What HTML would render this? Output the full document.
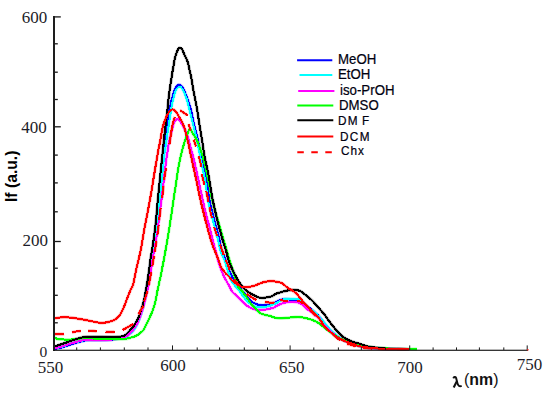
<!DOCTYPE html>
<html><head><meta charset="utf-8"><style>
html,body{margin:0;padding:0;background:#fff;}
#c{position:relative;width:550px;height:398px;overflow:hidden;background:#fff;}
svg{position:absolute;left:0;top:0;}
.t{position:absolute;white-space:nowrap;line-height:1;transform-origin:0 0;}
.s{font-family:"Liberation Serif",serif;font-size:17px;}
.l{font-family:"Liberation Sans",sans-serif;font-size:13px;}
</style></head><body><div id="c">
<div class="t" style="left:21.84px;top:8.00px;font-family:'Liberation Serif';font-size:17px;color:#1c1c28;transform:scale(1.000,1.040)">600</div>
<div class="t" style="left:21.34px;top:118.02px;font-family:'Liberation Serif';font-size:17px;color:#1c1c28;transform:scale(1.000,1.040)">400</div>
<div class="t" style="left:22.56px;top:231.00px;font-family:'Liberation Serif';font-size:17px;color:#1c1c28;transform:scale(1.000,1.040)">200</div>
<div class="t" style="left:39.60px;top:343.68px;font-family:'Liberation Serif';font-size:15.5px;color:#1c1c28;transform:scale(1.000,1.000)">0</div>
<div class="t" style="left:37.80px;top:358.32px;font-family:'Liberation Serif';font-size:17px;color:#1c1c28;transform:scale(1.000,1.040)">550</div>
<div class="t" style="left:160.26px;top:356.28px;font-family:'Liberation Serif';font-size:17px;color:#1c1c28;transform:scale(1.000,1.040)">600</div>
<div class="t" style="left:279.12px;top:358.42px;font-family:'Liberation Serif';font-size:17px;color:#1c1c28;transform:scale(1.000,1.040)">650</div>
<div class="t" style="left:397.30px;top:357.50px;font-family:'Liberation Serif';font-size:17px;color:#1c1c28;transform:scale(1.000,1.040)">700</div>
<div class="t" style="left:516.86px;top:354.64px;font-family:'Liberation Serif';font-size:17px;color:#1c1c28;transform:scale(1.000,1.040)">750</div>
<div class="t" style="left:337.70px;top:51.62px;font-family:'Liberation Sans';font-size:13px;-webkit-text-stroke:0.2px #000010;color:#000010;transform:scale(1.020,1.110)">MeOH</div>
<div class="t" style="left:338.32px;top:66.90px;font-family:'Liberation Sans';font-size:13px;-webkit-text-stroke:0.2px #000010;color:#000010;transform:scale(1.020,1.110)">EtOH</div>
<div class="t" style="left:340.08px;top:82.84px;font-family:'Liberation Sans';font-size:13px;-webkit-text-stroke:0.2px #000010;color:#000010;transform:scale(1.020,1.110)">iso-PrOH</div>
<div class="t" style="left:338.96px;top:98.48px;font-family:'Liberation Sans';font-size:13px;-webkit-text-stroke:0.2px #000010;color:#000010;transform:scale(1.020,1.110)">DMSO</div>
<div class="t" style="left:338.46px;top:114.14px;font-family:'Liberation Sans';font-size:12px;-webkit-text-stroke:0.2px #000010;letter-spacing:1.3px;word-spacing:-1.5px;color:#000010;transform:scale(0.980,1.050)">DM F</div>
<div class="t" style="left:340.06px;top:129.56px;font-family:'Liberation Sans';font-size:12px;-webkit-text-stroke:0.2px #000010;letter-spacing:1.4px;color:#000010;transform:scale(0.980,1.050)">DCM</div>
<div class="t" style="left:340.70px;top:144.36px;font-family:'Liberation Sans';font-size:12px;-webkit-text-stroke:0.2px #000010;letter-spacing:1.0px;color:#000010;transform:scale(0.980,1.050)">Chx</div>
<div class="t" style="left:464.02px;top:371.12px;font-family:'Liberation Sans';font-size:15px;font-weight:bold;color:#111;transform:scale(1.060,1.110)"><span style="font-weight:normal">(</span>nm<span style="font-weight:normal">)</span></div>
<div class="t" style="left:3.3px;top:201.6px;font-family:'Liberation Sans';font-size:16px;font-weight:bold;color:#000;transform:scale(1.07,0.98) rotate(-90deg)">If (a.u.)</div>

<svg width="550" height="398" viewBox="0 0 550 398">
<defs><filter id="bl" x="0" y="0" width="550" height="398" filterUnits="userSpaceOnUse" color-interpolation-filters="sRGB"><feConvolveMatrix order="3" kernelMatrix="0.015 0.06 0.015 0.06 0.70 0.06 0.015 0.06 0.015" preserveAlpha="false" edgeMode="duplicate"/></filter></defs>
<g>
<path d="M54.8 348.6 C55.5 348.6 56.9 348.7 58.8 348.3 C60.7 347.9 63.8 346.7 66.0 346.0 C68.2 345.3 69.9 344.6 72.0 344.0 C74.1 343.4 76.5 342.7 78.5 342.1 C80.5 341.5 82.4 340.9 84.3 340.6 C86.2 340.3 86.0 340.2 90.0 340.1 C94.0 340.0 102.8 340.3 108.0 340.0 C113.2 339.7 118.1 338.6 121.0 338.2 C123.9 337.8 124.0 338.0 125.2 337.4 C126.5 336.8 127.5 335.5 128.5 334.6 C129.6 333.7 130.5 333.2 131.5 332.2 C132.5 331.2 133.5 330.0 134.5 328.5 C135.5 327.0 136.5 325.1 137.5 323.0 C138.5 320.9 139.4 318.5 140.3 316.0 C141.2 313.5 141.9 310.8 142.7 308.0 C143.4 305.2 144.1 302.4 144.8 299.0 C145.5 295.6 146.2 292.0 147.0 287.5 C147.8 283.0 148.8 276.9 149.5 272.0 C150.2 267.1 150.7 262.0 151.3 258.3 C151.9 254.6 152.1 255.1 152.9 250.0 C153.7 244.9 155.1 234.7 155.9 227.7 C156.7 220.7 157.2 213.7 157.8 208.1 C158.4 202.5 158.6 199.6 159.2 194.0 C159.8 188.4 160.4 181.2 161.1 174.5 C161.8 167.8 162.6 159.6 163.2 153.8 C163.8 148.1 164.1 144.3 164.7 140.0 C165.2 135.7 165.9 132.2 166.5 128.0 C167.1 123.8 167.8 118.3 168.3 115.0 C168.9 111.7 169.2 110.4 169.8 107.9 C170.4 105.4 171.0 102.3 171.6 100.0 C172.2 97.7 172.7 95.8 173.4 93.8 C174.1 91.8 174.7 89.2 175.6 87.7 C176.5 86.2 177.5 84.8 178.6 84.6 C179.7 84.4 181.1 85.4 182.2 86.8 C183.3 88.2 184.2 90.8 185.2 93.0 C186.1 95.2 187.1 97.7 187.9 100.0 C188.7 102.3 189.4 104.6 190.1 107.0 C190.8 109.4 191.3 111.5 192.0 114.5 C192.7 117.5 193.2 120.8 194.2 125.1 C195.2 129.4 196.7 134.4 198.0 140.2 C199.3 146.0 200.4 153.3 201.8 160.0 C203.2 166.7 205.2 173.2 206.5 180.2 C207.8 187.2 208.6 195.6 209.8 202.0 C211.1 208.4 212.5 213.0 214.0 218.9 C215.5 224.8 217.7 232.5 219.0 237.7 C220.3 242.9 220.5 246.3 221.6 250.0 C222.7 253.7 224.1 256.3 225.5 260.0 C226.9 263.7 228.6 268.7 230.0 272.0 C231.4 275.3 232.7 277.8 234.0 280.0 C235.3 282.2 236.7 283.8 238.0 285.5 C239.3 287.2 240.4 288.6 242.0 290.5 C243.6 292.4 245.8 295.0 247.3 296.8 C248.8 298.6 249.6 300.1 251.0 301.3 C252.4 302.5 254.3 303.2 255.6 303.8 C256.9 304.4 257.9 304.6 259.0 304.9 C260.1 305.1 260.8 305.2 262.0 305.3 C263.2 305.4 264.8 305.3 266.0 305.2 C267.2 305.1 268.2 304.9 269.5 304.5 C270.8 304.1 272.4 303.7 274.0 303.0 C275.6 302.3 277.5 300.9 279.3 300.3 C281.1 299.7 282.5 299.3 284.6 299.2 C286.7 299.1 290.1 299.6 292.1 299.8 C294.1 300.1 295.1 300.3 296.7 300.7 C298.2 301.1 299.6 301.1 301.4 302.0 C303.2 302.9 305.5 304.8 307.6 306.4 C309.7 308.0 311.8 309.6 313.9 311.5 C316.0 313.4 318.3 315.5 320.2 317.7 C322.1 319.9 323.2 322.2 325.1 324.5 C327.0 326.8 329.3 329.5 331.4 331.5 C333.5 333.5 335.6 335.2 337.7 336.7 C339.8 338.2 341.9 339.4 344.0 340.4 C346.1 341.4 347.4 341.7 350.0 342.6 C352.6 343.5 356.4 345.2 359.5 346.0 C362.6 346.8 364.7 347.2 368.3 347.6 C371.9 348.1 376.9 348.4 381.4 348.7 C385.8 349.0 390.3 349.1 395.0 349.2 C399.7 349.3 407.1 349.4 409.5 349.5" fill="none" stroke="#0000ff" stroke-width="3.2" stroke-opacity="0.3" stroke-linejoin="round" stroke-linecap="butt"/>
<path d="M54.8 348.3 C55.7 348.1 58.4 347.7 60.3 347.2 C62.2 346.7 64.2 345.9 66.0 345.3 C67.8 344.7 68.9 344.2 71.0 343.6 C73.1 343.0 76.3 342.1 78.5 341.5 C80.7 340.9 82.1 340.6 84.0 340.3 C85.9 340.1 86.0 340.1 90.0 340.0 C94.0 339.9 102.8 340.1 108.0 339.8 C113.2 339.5 118.1 338.4 121.0 338.0 C123.9 337.6 124.0 337.8 125.2 337.2 C126.5 336.6 127.5 335.4 128.5 334.6 C129.6 333.8 130.5 333.2 131.5 332.2 C132.5 331.2 133.5 330.0 134.5 328.5 C135.5 327.0 136.5 325.1 137.5 323.0 C138.5 320.9 139.4 318.5 140.3 316.0 C141.2 313.5 141.9 310.8 142.7 308.0 C143.4 305.2 144.1 302.4 144.8 299.0 C145.5 295.6 146.2 292.0 147.0 287.5 C147.8 283.0 148.8 276.9 149.5 272.0 C150.2 267.1 150.9 262.0 151.5 258.3 C152.1 254.6 152.5 255.1 153.3 250.0 C154.1 244.9 155.6 234.7 156.5 227.7 C157.4 220.7 157.9 213.7 158.5 208.1 C159.1 202.5 159.7 199.6 160.3 194.0 C160.9 188.4 161.6 181.0 162.3 174.5 C163.0 168.0 163.7 159.8 164.3 155.0 C164.9 150.2 165.3 148.8 165.7 146.0 C166.1 143.2 166.4 141.0 166.8 138.0 C167.2 135.0 167.7 132.2 168.3 128.0 C168.9 123.8 169.9 117.1 170.6 113.0 C171.2 108.9 171.6 106.3 172.2 103.5 C172.8 100.7 173.4 98.2 174.0 96.0 C174.6 93.8 175.2 91.5 176.0 90.0 C176.8 88.5 178.0 86.9 179.1 86.7 C180.2 86.5 181.1 87.0 182.3 88.8 C183.5 90.6 184.9 93.7 186.1 97.3 C187.3 100.9 188.4 105.9 189.6 110.5 C190.8 115.1 192.0 120.1 193.2 125.1 C194.4 130.0 195.7 134.4 197.0 140.2 C198.3 146.0 199.5 153.3 200.8 160.0 C202.2 166.7 203.8 173.2 205.1 180.2 C206.3 187.2 207.1 195.6 208.3 202.0 C209.6 208.4 211.1 213.0 212.6 218.9 C214.1 224.8 216.3 232.5 217.6 237.7 C218.9 242.9 219.1 246.3 220.2 250.0 C221.3 253.7 222.9 255.8 224.4 260.0 C225.9 264.2 228.1 271.6 229.4 275.2 C230.7 278.8 230.9 279.5 232.0 281.5 C233.1 283.5 234.7 285.3 236.0 287.0 C237.3 288.7 238.6 289.9 239.8 291.5 C241.1 293.1 242.2 295.2 243.5 296.8 C244.8 298.4 246.1 300.1 247.3 301.3 C248.6 302.6 249.6 303.4 251.0 304.3 C252.4 305.2 253.9 306.1 255.6 306.6 C257.2 307.1 259.5 307.3 260.9 307.4 C262.3 307.5 262.8 307.5 264.0 307.3 C265.2 307.1 266.4 306.8 268.0 306.3 C269.6 305.8 271.8 305.1 273.3 304.5 C274.8 303.9 275.7 303.3 277.1 302.6 C278.5 301.9 280.1 300.9 281.6 300.3 C283.1 299.7 284.4 299.1 286.1 298.8 C287.9 298.6 290.2 298.7 292.1 298.8 C294.0 298.9 295.8 298.9 297.4 299.2 C299.0 299.5 300.5 299.6 302.0 300.8 C303.5 302.0 304.3 304.3 306.3 306.1 C308.3 307.9 311.8 309.8 313.9 311.5 C316.0 313.2 316.9 314.2 318.8 316.3 C320.7 318.4 323.0 321.4 325.1 323.9 C327.2 326.3 329.3 328.9 331.4 331.0 C333.5 333.1 335.6 334.9 337.7 336.5 C339.8 338.1 341.9 339.3 344.0 340.3 C346.1 341.3 347.4 341.7 350.0 342.6 C352.6 343.6 356.4 345.2 359.5 346.0 C362.6 346.8 364.7 347.2 368.3 347.6 C371.9 348.1 376.9 348.4 381.4 348.7 C385.8 349.0 390.3 349.1 395.0 349.2 C399.7 349.3 407.1 349.4 409.5 349.5" fill="none" stroke="#00ffff" stroke-width="3.2" stroke-opacity="0.3" stroke-linejoin="round" stroke-linecap="butt"/>
<path d="M55.0 348.2 C56.2 347.9 59.8 347.1 62.5 346.3 C65.2 345.5 68.5 344.3 71.2 343.5 C73.9 342.7 76.1 342.0 78.5 341.4 C80.9 340.8 83.3 340.1 85.7 339.9 C88.1 339.7 89.2 340.1 93.0 340.1 C96.8 340.1 104.1 340.5 108.8 340.0 C113.5 339.5 118.3 337.8 121.0 337.3 C123.7 336.8 124.0 337.6 125.2 337.1 C126.5 336.6 127.5 335.2 128.5 334.3 C129.6 333.4 130.5 332.9 131.5 331.8 C132.5 330.7 133.4 329.2 134.5 327.5 C135.6 325.8 136.9 323.8 138.0 321.5 C139.1 319.2 139.9 316.6 140.8 314.0 C141.7 311.4 142.7 308.7 143.5 306.0 C144.3 303.3 144.8 301.5 145.6 298.0 C146.4 294.5 147.7 289.7 148.6 285.0 C149.5 280.3 150.2 274.8 151.0 270.0 C151.8 265.2 152.5 260.2 153.2 256.0 C153.9 251.8 154.5 248.8 155.2 245.0 C155.9 241.2 156.6 237.1 157.2 233.0 C157.8 228.9 158.3 224.5 158.9 220.2 C159.5 215.9 160.0 210.8 160.5 207.0 C161.0 203.2 161.3 201.5 161.8 197.5 C162.3 193.5 162.9 188.0 163.5 183.0 C164.1 178.0 164.7 172.3 165.3 167.6 C165.9 162.9 166.4 158.9 167.0 155.0 C167.6 151.1 168.1 147.5 168.7 144.1 C169.3 140.7 170.0 137.8 170.8 134.5 C171.6 131.2 172.7 126.9 173.4 124.6 C174.1 122.3 174.5 121.5 175.1 120.6 C175.7 119.7 176.3 119.3 177.1 119.3 C177.8 119.2 178.7 119.3 179.6 120.3 C180.5 121.3 181.6 123.4 182.6 125.2 C183.6 127.0 184.8 129.4 185.6 131.2 C186.4 133.0 186.8 133.7 187.5 136.0 C188.2 138.3 189.1 141.5 190.0 145.0 C190.9 148.5 192.1 152.7 193.2 157.0 C194.3 161.3 195.4 166.3 196.5 171.0 C197.6 175.7 198.4 180.0 199.5 185.0 C200.6 190.0 201.8 195.8 203.0 201.0 C204.2 206.2 205.2 211.0 206.5 216.0 C207.8 221.0 209.1 225.5 210.5 231.0 C211.9 236.5 213.7 243.8 215.1 249.0 C216.5 254.2 217.6 258.8 218.7 262.5 C219.8 266.2 220.8 268.8 221.8 271.5 C222.9 274.2 223.8 276.2 225.0 278.5 C226.2 280.8 227.8 283.3 229.0 285.5 C230.2 287.7 230.9 289.9 232.1 291.5 C233.3 293.1 234.7 294.0 236.0 295.3 C237.3 296.6 238.6 297.9 239.8 299.1 C241.1 300.4 242.2 301.7 243.5 302.8 C244.8 303.9 246.1 305.0 247.3 305.9 C248.6 306.8 249.6 307.5 251.0 308.1 C252.4 308.7 253.9 309.3 255.6 309.6 C257.2 309.9 259.2 310.0 260.9 310.0 C262.6 310.0 264.6 309.7 266.0 309.5 C267.4 309.3 267.8 309.1 269.0 308.8 C270.2 308.5 271.9 308.4 273.3 307.9 C274.7 307.4 275.7 306.3 277.1 305.6 C278.5 304.9 280.0 304.3 281.6 303.7 C283.2 303.1 284.9 302.5 286.9 302.2 C288.9 301.9 291.8 301.7 293.7 301.8 C295.6 301.9 296.8 302.2 298.2 302.6 C299.6 303.0 300.7 303.3 302.0 304.3 C303.3 305.3 304.9 307.4 306.2 308.5 C307.5 309.6 308.5 309.9 310.0 311.0 C311.5 312.1 313.3 313.6 315.0 315.0 C316.7 316.4 318.5 317.6 320.2 319.5 C321.9 321.4 323.2 324.4 325.1 326.5 C327.0 328.6 329.3 330.4 331.4 332.2 C333.5 333.9 335.6 335.6 337.7 337.0 C339.8 338.4 341.9 339.6 344.0 340.6 C346.1 341.6 347.4 341.9 350.0 342.8 C352.6 343.7 356.4 345.2 359.5 346.0 C362.6 346.8 364.7 347.2 368.3 347.6 C371.9 348.1 376.9 348.4 381.4 348.7 C385.8 349.0 390.3 349.1 395.0 349.2 C399.7 349.3 407.1 349.4 409.5 349.5" fill="none" stroke="#ff00ff" stroke-width="3.2" stroke-opacity="0.3" stroke-linejoin="round" stroke-linecap="butt"/>
<path d="M54.8 337.7 C55.3 337.9 56.6 338.9 58.1 339.2 C59.6 339.5 61.7 339.4 63.9 339.5 C66.1 339.6 69.0 339.6 71.2 339.5 C73.4 339.4 75.4 339.4 77.0 339.2 C78.6 339.0 79.1 338.5 80.6 338.3 C82.0 338.1 83.6 338.1 85.7 338.1 C87.8 338.1 89.2 338.3 93.0 338.5 C96.8 338.7 103.4 339.1 108.8 339.2 C114.2 339.2 121.5 339.1 125.2 338.8 C128.9 338.5 129.3 337.9 130.9 337.5 C132.5 337.1 133.7 336.9 135.0 336.3 C136.3 335.7 137.6 335.1 139.0 334.0 C140.4 332.9 142.3 331.5 143.5 330.0 C144.7 328.5 145.2 326.5 146.0 325.0 C146.8 323.5 147.0 323.3 148.0 321.2 C149.0 319.1 150.8 315.2 152.0 312.2 C153.2 309.2 154.1 306.4 155.0 303.0 C155.9 299.6 156.6 295.0 157.2 292.0 C157.8 289.0 158.1 287.5 158.7 285.0 C159.2 282.5 159.9 279.8 160.5 277.0 C161.1 274.2 161.6 271.0 162.2 268.0 C162.8 265.0 163.4 262.0 164.0 259.0 C164.6 256.0 165.0 253.2 165.6 250.0 C166.2 246.8 166.8 243.3 167.4 240.0 C168.0 236.7 168.3 234.2 169.0 230.0 C169.7 225.8 170.6 220.0 171.3 215.0 C172.1 210.0 172.8 205.0 173.5 200.0 C174.2 195.0 175.1 190.0 175.8 185.0 C176.6 180.0 177.4 173.9 178.0 170.0 C178.6 166.1 179.1 163.8 179.6 161.3 C180.1 158.8 180.5 157.0 181.0 155.0 C181.5 153.0 181.8 151.2 182.4 149.2 C183.0 147.2 183.7 145.0 184.3 143.0 C184.9 141.0 185.6 138.8 186.2 137.1 C186.8 135.3 187.4 133.8 188.0 132.5 C188.6 131.2 189.2 128.8 190.0 129.0 C190.8 129.2 192.0 132.1 193.1 133.9 C194.2 135.7 195.9 138.1 196.8 139.9 C197.8 141.8 197.9 142.5 198.8 145.0 C199.7 147.5 200.9 150.6 202.2 155.0 C203.5 159.4 205.1 165.5 206.4 171.4 C207.7 177.3 209.2 185.3 210.2 190.2 C211.2 195.1 211.6 197.3 212.5 201.0 C213.4 204.7 214.4 208.7 215.5 212.5 C216.6 216.3 217.6 219.5 218.9 223.9 C220.2 228.3 222.0 234.7 223.3 239.0 C224.6 243.3 225.5 246.5 226.5 250.0 C227.5 253.5 228.6 257.0 229.5 260.0 C230.4 263.0 231.1 265.2 232.0 268.0 C232.9 270.8 233.9 273.8 235.0 277.0 C236.1 280.2 236.9 284.3 238.3 287.0 C239.7 289.7 242.0 291.1 243.5 293.0 C245.0 294.9 246.1 296.5 247.3 298.3 C248.6 300.1 249.8 302.0 251.0 303.6 C252.2 305.2 253.5 306.7 254.8 308.1 C256.1 309.5 257.4 310.9 258.6 311.9 C259.8 312.9 260.9 313.4 262.0 313.9 C263.1 314.4 264.2 314.7 265.5 315.0 C266.8 315.3 267.9 315.4 269.5 315.8 C271.1 316.2 273.4 317.3 275.2 317.7 C276.9 318.1 278.1 318.4 280.0 318.4 C281.9 318.4 283.8 318.1 286.3 317.9 C288.8 317.7 292.8 317.2 295.1 317.1 C297.4 317.0 298.1 316.9 300.0 317.1 C301.9 317.3 304.2 317.7 306.3 318.2 C308.4 318.7 310.5 319.3 312.6 320.1 C314.7 320.9 316.7 321.8 318.8 323.2 C320.9 324.6 323.0 326.7 325.1 328.3 C327.2 329.9 329.3 331.2 331.4 332.7 C333.5 334.2 335.6 335.9 337.7 337.2 C339.8 338.4 341.9 339.3 344.0 340.2 C346.1 341.1 347.4 341.5 350.0 342.4 C352.6 343.3 356.4 344.7 359.5 345.4 C362.6 346.1 364.7 346.4 368.3 346.8 C371.9 347.2 376.9 347.8 381.4 348.1 C385.8 348.4 389.1 348.6 395.0 348.8 C400.9 349.0 413.3 349.1 417.0 349.2" fill="none" stroke="#00ff00" stroke-width="3.2" stroke-opacity="0.3" stroke-linejoin="round" stroke-linecap="butt"/>
<path d="M54.8 346.5 C55.7 346.2 58.2 345.3 60.3 344.6 C62.4 343.9 65.1 343.0 67.5 342.1 C69.9 341.2 72.4 340.3 74.8 339.5 C77.2 338.7 80.0 337.9 82.1 337.4 C84.2 336.9 85.4 336.7 87.2 336.6 C89.0 336.5 87.6 336.6 93.0 336.6 C98.4 336.6 114.1 336.9 119.5 336.7 C124.9 336.4 123.6 336.0 125.2 335.1 C126.8 334.2 127.9 332.6 129.3 331.2 C130.7 329.8 132.2 328.2 133.4 326.5 C134.6 324.8 135.8 322.7 136.7 321.2 C137.5 319.7 137.7 319.4 138.5 317.5 C139.3 315.6 140.4 312.9 141.3 309.9 C142.2 306.9 143.3 303.2 144.1 299.7 C144.9 296.2 145.4 293.3 146.2 288.7 C147.0 284.1 148.1 277.2 148.8 272.1 C149.5 267.0 150.1 262.0 150.6 258.3 C151.1 254.6 151.3 255.1 152.1 250.0 C152.9 244.9 154.4 234.7 155.2 227.7 C156.0 220.7 156.6 213.7 157.1 208.1 C157.6 202.5 157.8 199.6 158.4 194.0 C159.0 188.4 159.7 181.2 160.4 174.5 C161.1 167.8 161.9 159.6 162.5 153.8 C163.1 148.1 163.4 144.8 163.9 140.0 C164.4 135.2 165.1 129.7 165.6 125.2 C166.1 120.7 166.8 116.8 167.2 113.0 C167.6 109.2 167.7 106.2 168.1 102.6 C168.5 99.0 168.9 95.3 169.5 91.2 C170.1 87.1 170.9 81.7 171.5 78.0 C172.1 74.3 172.3 72.6 172.9 69.3 C173.5 66.0 174.2 61.2 174.9 58.2 C175.6 55.2 176.7 52.6 177.3 51.0 C178.0 49.4 178.3 48.9 178.8 48.4 C179.3 47.9 179.7 47.9 180.2 48.0 C180.7 48.1 181.2 48.4 181.6 48.8 C182.0 49.2 182.1 49.4 182.6 50.4 C183.1 51.4 183.6 52.7 184.4 54.6 C185.2 56.5 186.8 59.0 187.7 62.0 C188.6 65.0 189.5 69.9 190.1 72.6 C190.7 75.3 190.9 75.3 191.4 78.0 C191.9 80.7 192.4 84.9 193.1 88.6 C193.8 92.3 194.6 96.3 195.3 100.0 C196.0 103.7 196.6 106.3 197.3 110.5 C198.0 114.7 198.7 120.1 199.5 125.1 C200.3 130.0 201.1 134.8 202.0 140.2 C202.9 145.6 203.8 151.9 204.8 157.5 C205.9 163.1 207.2 168.0 208.3 173.9 C209.4 179.8 210.6 187.9 211.4 192.7 C212.2 197.5 212.4 198.1 213.3 202.5 C214.2 206.9 215.6 213.0 217.0 218.9 C218.4 224.8 220.5 232.5 222.0 237.7 C223.5 242.9 224.7 246.3 225.8 250.0 C226.9 253.7 227.6 257.1 228.5 260.0 C229.4 262.9 230.4 265.0 231.5 267.5 C232.6 270.0 233.9 272.7 235.1 275.0 C236.3 277.3 237.6 279.5 238.8 281.5 C240.1 283.5 241.3 285.4 242.6 287.0 C243.9 288.6 245.2 289.8 246.5 290.8 C247.8 291.8 248.9 292.4 250.2 293.2 C251.5 294.0 253.0 294.8 254.5 295.5 C256.0 296.2 257.9 297.2 259.2 297.6 C260.4 298.0 260.8 298.0 262.0 298.0 C263.2 298.0 264.9 297.7 266.5 297.4 C268.1 297.1 270.2 296.8 271.8 296.2 C273.4 295.6 274.7 294.3 276.3 293.6 C277.9 292.9 279.8 292.5 281.6 292.0 C283.4 291.5 284.9 291.0 286.9 290.6 C288.9 290.2 291.6 289.9 293.7 289.9 C295.8 289.9 297.6 289.9 299.7 290.8 C301.8 291.7 304.1 293.8 306.2 295.4 C308.3 297.0 310.2 298.7 312.2 300.7 C314.2 302.7 316.3 305.2 318.3 307.5 C320.3 309.8 322.6 312.1 324.3 314.3 C326.0 316.5 326.8 317.9 328.7 320.5 C330.6 323.1 333.4 326.9 335.8 329.6 C338.2 332.3 340.6 334.9 343.0 336.8 C345.4 338.7 347.3 339.6 350.1 340.8 C352.9 342.0 357.2 343.0 360.0 343.9 C362.8 344.8 364.4 345.6 366.8 346.2 C369.2 346.8 371.4 346.9 374.1 347.3 C376.8 347.7 378.5 348.1 382.8 348.4 C387.1 348.7 395.6 349.0 400.0 349.2 C404.4 349.4 407.5 349.4 409.0 349.5" fill="none" stroke="#000000" stroke-width="3.2" stroke-opacity="0.3" stroke-linejoin="round" stroke-linecap="butt"/>
<path d="M55.0 318.3 C56.6 318.1 60.9 317.2 64.4 317.2 C67.9 317.2 72.3 317.8 76.0 318.3 C79.7 318.8 83.7 319.7 86.5 320.2 C89.3 320.7 90.8 321.1 93.0 321.5 C95.2 321.9 98.0 322.6 100.0 322.8 C102.0 323.0 103.3 322.8 105.0 322.6 C106.7 322.4 108.5 321.9 110.0 321.5 C111.5 321.1 113.0 320.7 114.3 320.0 C115.5 319.3 116.5 318.5 117.5 317.5 C118.5 316.5 119.7 315.2 120.6 313.8 C121.5 312.4 122.2 310.7 123.0 309.0 C123.8 307.3 124.5 305.4 125.2 303.7 C125.9 302.0 126.3 300.7 127.0 299.0 C127.7 297.3 128.4 295.3 129.1 293.6 C129.8 291.9 130.3 290.4 131.0 289.0 C131.7 287.6 132.2 287.8 133.0 285.0 C133.8 282.2 134.7 276.8 135.7 272.1 C136.7 267.4 138.3 260.6 139.2 256.9 C140.0 253.2 139.9 254.9 140.8 250.0 C141.7 245.1 143.3 234.7 144.6 227.7 C145.9 220.7 147.4 213.5 148.4 208.1 C149.4 202.7 149.8 200.6 150.8 195.0 C151.8 189.4 153.0 181.4 154.2 174.5 C155.3 167.6 156.7 159.6 157.7 153.8 C158.7 148.1 159.6 144.3 160.4 140.0 C161.2 135.7 161.8 131.1 162.5 128.0 C163.2 124.9 163.6 123.9 164.5 121.5 C165.4 119.1 166.8 115.6 168.0 113.6 C169.2 111.6 170.7 110.1 171.8 109.6 C172.9 109.1 173.9 109.8 174.8 110.5 C175.7 111.2 176.6 112.6 177.4 113.9 C178.2 115.2 178.9 116.6 179.7 118.1 C180.5 119.5 181.5 120.9 182.3 122.6 C183.1 124.3 183.7 125.6 184.6 128.5 C185.5 131.4 186.6 135.7 187.6 140.0 C188.6 144.3 189.6 149.3 190.7 154.5 C191.8 159.7 193.2 166.1 194.4 171.4 C195.6 176.7 196.5 181.3 197.6 186.4 C198.7 191.5 199.7 196.6 200.9 202.0 C202.2 207.4 203.7 213.4 205.1 218.9 C206.5 224.4 208.2 230.5 209.5 235.2 C210.8 239.9 212.0 243.6 213.2 247.0 C214.4 250.4 215.6 252.3 216.8 255.5 C218.0 258.7 219.6 263.6 220.6 266.0 C221.6 268.4 222.1 268.7 223.0 270.0 C223.9 271.3 225.0 272.5 226.0 273.6 C227.0 274.7 228.0 275.4 229.0 276.5 C230.0 277.6 230.9 279.4 232.0 280.5 C233.1 281.6 234.2 282.1 235.5 283.0 C236.8 283.9 238.3 285.3 239.6 286.0 C240.9 286.7 242.2 286.8 243.5 287.0 C244.8 287.2 245.8 287.2 247.1 287.1 C248.3 287.0 249.7 286.9 251.0 286.6 C252.3 286.4 253.4 286.0 254.7 285.6 C255.9 285.2 257.2 284.5 258.5 284.0 C259.8 283.5 260.9 283.0 262.2 282.6 C263.4 282.2 264.7 281.9 266.0 281.6 C267.3 281.4 268.6 281.2 269.8 281.1 C271.1 281.0 272.2 281.1 273.5 281.2 C274.8 281.3 276.1 281.7 277.3 281.9 C278.5 282.1 279.6 282.2 280.6 282.6 C281.6 283.0 282.5 283.6 283.5 284.3 C284.5 285.0 285.6 286.2 286.6 287.0 C287.6 287.8 288.5 288.4 289.5 289.0 C290.5 289.6 291.6 289.9 292.6 290.6 C293.6 291.3 294.7 292.1 295.7 293.0 C296.7 293.9 297.7 295.0 298.7 296.2 C299.7 297.4 300.7 298.8 301.7 300.0 C302.7 301.2 303.7 302.6 304.7 303.7 C305.7 304.8 306.7 305.8 307.7 306.8 C308.7 307.8 309.7 308.8 310.7 309.8 C311.7 310.8 312.7 311.8 313.7 312.8 C314.7 313.8 315.7 314.6 316.8 315.8 C317.9 317.0 319.1 318.3 320.5 320.2 C321.9 322.1 323.3 325.1 325.1 327.2 C326.9 329.3 329.3 331.0 331.4 332.7 C333.5 334.4 335.6 336.0 337.7 337.4 C339.8 338.8 341.9 339.9 344.0 340.8 C346.1 341.7 347.4 342.0 350.0 342.9 C352.6 343.8 356.4 345.4 359.5 346.2 C362.6 347.0 364.7 347.2 368.3 347.6 C371.9 348.0 376.9 348.5 381.4 348.8 C385.8 349.1 390.3 349.2 395.0 349.3 C399.7 349.4 407.1 349.5 409.5 349.5" fill="none" stroke="#ff0000" stroke-width="3.2" stroke-opacity="0.3" stroke-linejoin="round" stroke-linecap="butt"/>
<path d="M54.8 334.1 C56.3 334.1 61.7 334.3 63.9 334.1 C66.1 333.9 66.7 333.3 68.0 333.0 C69.3 332.7 70.6 332.6 71.9 332.3 C73.2 332.1 74.5 331.7 76.0 331.5 C77.5 331.3 78.6 331.3 80.6 331.2 C82.6 331.1 85.9 330.9 88.0 330.8 C90.1 330.7 91.6 330.7 93.0 330.8 C94.4 330.9 94.4 331.3 96.5 331.5 C98.6 331.7 102.5 331.8 105.5 331.8 C108.5 331.9 112.1 331.9 114.5 331.8 C116.9 331.7 118.6 331.4 120.0 331.0 C121.4 330.6 121.8 330.4 123.1 329.7 C124.4 329.0 126.4 327.9 128.0 327.0 C129.6 326.1 131.4 325.4 132.8 324.1 C134.2 322.9 135.5 321.3 136.5 319.5 C137.5 317.7 138.2 315.1 139.0 313.3 C139.8 311.6 140.8 310.3 141.5 309.0 C142.2 307.7 143.0 306.9 143.5 305.4 C144.0 303.9 144.0 302.1 144.6 300.0 C145.2 297.9 146.1 295.3 146.8 293.0 C147.5 290.7 148.0 288.6 148.6 286.0 C149.2 283.4 149.3 282.2 150.2 277.6 C151.0 273.0 152.8 263.4 153.7 258.3 C154.6 253.2 154.9 250.8 155.5 247.0 C156.1 243.2 156.6 241.4 157.4 235.2 C158.2 229.0 159.6 216.3 160.4 209.6 C161.2 202.9 161.9 199.8 162.5 195.0 C163.1 190.2 163.4 185.6 164.0 181.0 C164.6 176.4 165.3 172.3 166.0 167.6 C166.7 162.9 167.3 157.6 168.0 153.0 C168.7 148.4 169.5 143.8 170.1 140.0 C170.7 136.2 171.1 132.8 171.6 130.0 C172.1 127.2 172.5 125.1 173.0 123.0 C173.5 120.9 174.0 119.2 174.6 117.5 C175.2 115.8 176.0 114.2 176.8 113.0 C177.6 111.8 178.4 110.4 179.4 110.3 C180.4 110.2 181.7 111.5 183.0 112.3 C184.3 113.1 186.2 114.0 187.0 115.3 C187.8 116.6 187.7 118.5 188.0 120.0 C188.3 121.5 188.4 122.8 188.8 124.5 C189.2 126.2 190.1 128.7 190.7 130.4 C191.3 132.2 191.8 133.5 192.3 135.0 C192.8 136.5 193.1 137.5 193.7 139.4 C194.3 141.3 195.2 143.6 196.0 146.2 C196.8 148.8 197.6 152.4 198.3 155.2 C199.1 158.0 199.8 159.1 200.5 162.8 C201.2 166.5 201.5 172.4 202.6 177.6 C203.7 182.8 205.8 188.6 207.0 194.0 C208.2 199.4 208.8 204.4 210.1 210.0 C211.3 215.6 213.3 223.2 214.5 227.7 C215.7 232.2 216.5 234.0 217.5 237.0 C218.5 240.0 219.1 242.0 220.4 245.8 C221.8 249.6 224.3 256.8 225.6 260.0 C226.9 263.2 227.2 262.8 228.0 265.0 C228.8 267.2 229.6 270.7 230.6 273.0 C231.6 275.3 232.6 277.0 234.0 279.0 C235.4 281.0 237.0 282.7 239.0 285.0 C241.0 287.3 243.8 290.9 246.0 293.0 C248.2 295.1 250.0 296.2 252.0 297.5 C254.0 298.8 255.8 299.8 258.0 300.5 C260.2 301.2 262.8 301.6 265.2 302.0 C267.6 302.4 270.2 302.9 272.7 302.7 C275.2 302.4 278.1 300.8 280.2 300.5 C282.2 300.2 283.4 300.7 285.0 300.8 C286.6 300.9 287.7 300.9 290.0 301.0 C292.3 301.1 296.6 300.8 298.8 301.2 C301.0 301.6 301.6 302.5 303.0 303.5 C304.4 304.5 305.5 305.6 307.0 307.0 C308.5 308.4 310.0 309.8 312.0 312.0 C314.0 314.2 316.6 317.5 318.8 320.0 C321.0 322.5 323.0 325.0 325.1 327.2 C327.2 329.4 329.3 331.1 331.4 333.0 C333.5 334.9 335.6 337.0 337.7 338.6 C339.8 340.2 341.9 341.4 344.0 342.4 C346.1 343.4 347.4 343.8 350.0 344.6 C352.6 345.4 356.4 346.6 359.5 347.2 C362.6 347.8 364.7 348.0 368.3 348.3 C371.9 348.6 376.9 348.8 381.4 349.0 C385.8 349.2 390.3 349.2 395.0 349.3 C399.7 349.4 407.1 349.5 409.5 349.5" fill="none" stroke="#ff0000" stroke-width="3.2" stroke-opacity="0.3" stroke-linejoin="round" stroke-linecap="butt" stroke-dasharray="0.00 0.00 9.27 8.06 8.79 7.41 8.74 8.85 9.00 8.43 12.01 10.93 10.28 4.21 11.01 6.02 12.95 5.95 10.82 3.98 10.86 6.08 10.56 4.32 12.36 10.56 11.95 5.55 12.16 23.96 28.16 8.58 9.22 8.30 7.09 9.49 7.18 9.91 11.20 7.42 10.74 6.49 11.06 5.67 11.01 9.08 9.74 8.97 10.92 5.09 11.13 10.30 7.81 11.51 11.50 8.30 10.06 5.26 8.44 9.01 7.68 8.00 9.00 8.00 9.00 8.00 9.00 8.00 9.00 8.00 9.00 8.00 9.00 8.00 9.00 8.00 9.00"/>
<path d="M54.8 348.6 C55.5 348.6 56.9 348.7 58.8 348.3 C60.7 347.9 63.8 346.7 66.0 346.0 C68.2 345.3 69.9 344.6 72.0 344.0 C74.1 343.4 76.5 342.7 78.5 342.1 C80.5 341.5 82.4 340.9 84.3 340.6 C86.2 340.3 86.0 340.2 90.0 340.1 C94.0 340.0 102.8 340.3 108.0 340.0 C113.2 339.7 118.1 338.6 121.0 338.2 C123.9 337.8 124.0 338.0 125.2 337.4 C126.5 336.8 127.5 335.5 128.5 334.6 C129.6 333.7 130.5 333.2 131.5 332.2 C132.5 331.2 133.5 330.0 134.5 328.5 C135.5 327.0 136.5 325.1 137.5 323.0 C138.5 320.9 139.4 318.5 140.3 316.0 C141.2 313.5 141.9 310.8 142.7 308.0 C143.4 305.2 144.1 302.4 144.8 299.0 C145.5 295.6 146.2 292.0 147.0 287.5 C147.8 283.0 148.8 276.9 149.5 272.0 C150.2 267.1 150.7 262.0 151.3 258.3 C151.9 254.6 152.1 255.1 152.9 250.0 C153.7 244.9 155.1 234.7 155.9 227.7 C156.7 220.7 157.2 213.7 157.8 208.1 C158.4 202.5 158.6 199.6 159.2 194.0 C159.8 188.4 160.4 181.2 161.1 174.5 C161.8 167.8 162.6 159.6 163.2 153.8 C163.8 148.1 164.1 144.3 164.7 140.0 C165.2 135.7 165.9 132.2 166.5 128.0 C167.1 123.8 167.8 118.3 168.3 115.0 C168.9 111.7 169.2 110.4 169.8 107.9 C170.4 105.4 171.0 102.3 171.6 100.0 C172.2 97.7 172.7 95.8 173.4 93.8 C174.1 91.8 174.7 89.2 175.6 87.7 C176.5 86.2 177.5 84.8 178.6 84.6 C179.7 84.4 181.1 85.4 182.2 86.8 C183.3 88.2 184.2 90.8 185.2 93.0 C186.1 95.2 187.1 97.7 187.9 100.0 C188.7 102.3 189.4 104.6 190.1 107.0 C190.8 109.4 191.3 111.5 192.0 114.5 C192.7 117.5 193.2 120.8 194.2 125.1 C195.2 129.4 196.7 134.4 198.0 140.2 C199.3 146.0 200.4 153.3 201.8 160.0 C203.2 166.7 205.2 173.2 206.5 180.2 C207.8 187.2 208.6 195.6 209.8 202.0 C211.1 208.4 212.5 213.0 214.0 218.9 C215.5 224.8 217.7 232.5 219.0 237.7 C220.3 242.9 220.5 246.3 221.6 250.0 C222.7 253.7 224.1 256.3 225.5 260.0 C226.9 263.7 228.6 268.7 230.0 272.0 C231.4 275.3 232.7 277.8 234.0 280.0 C235.3 282.2 236.7 283.8 238.0 285.5 C239.3 287.2 240.4 288.6 242.0 290.5 C243.6 292.4 245.8 295.0 247.3 296.8 C248.8 298.6 249.6 300.1 251.0 301.3 C252.4 302.5 254.3 303.2 255.6 303.8 C256.9 304.4 257.9 304.6 259.0 304.9 C260.1 305.1 260.8 305.2 262.0 305.3 C263.2 305.4 264.8 305.3 266.0 305.2 C267.2 305.1 268.2 304.9 269.5 304.5 C270.8 304.1 272.4 303.7 274.0 303.0 C275.6 302.3 277.5 300.9 279.3 300.3 C281.1 299.7 282.5 299.3 284.6 299.2 C286.7 299.1 290.1 299.6 292.1 299.8 C294.1 300.1 295.1 300.3 296.7 300.7 C298.2 301.1 299.6 301.1 301.4 302.0 C303.2 302.9 305.5 304.8 307.6 306.4 C309.7 308.0 311.8 309.6 313.9 311.5 C316.0 313.4 318.3 315.5 320.2 317.7 C322.1 319.9 323.2 322.2 325.1 324.5 C327.0 326.8 329.3 329.5 331.4 331.5 C333.5 333.5 335.6 335.2 337.7 336.7 C339.8 338.2 341.9 339.4 344.0 340.4 C346.1 341.4 347.4 341.7 350.0 342.6 C352.6 343.5 356.4 345.2 359.5 346.0 C362.6 346.8 364.7 347.2 368.3 347.6 C371.9 348.1 376.9 348.4 381.4 348.7 C385.8 349.0 390.3 349.1 395.0 349.2 C399.7 349.3 407.1 349.4 409.5 349.5" fill="none" stroke="#0000ff" stroke-width="2.0" stroke-linejoin="round" stroke-linecap="butt" shape-rendering="crispEdges"/>
<path d="M54.8 348.3 C55.7 348.1 58.4 347.7 60.3 347.2 C62.2 346.7 64.2 345.9 66.0 345.3 C67.8 344.7 68.9 344.2 71.0 343.6 C73.1 343.0 76.3 342.1 78.5 341.5 C80.7 340.9 82.1 340.6 84.0 340.3 C85.9 340.1 86.0 340.1 90.0 340.0 C94.0 339.9 102.8 340.1 108.0 339.8 C113.2 339.5 118.1 338.4 121.0 338.0 C123.9 337.6 124.0 337.8 125.2 337.2 C126.5 336.6 127.5 335.4 128.5 334.6 C129.6 333.8 130.5 333.2 131.5 332.2 C132.5 331.2 133.5 330.0 134.5 328.5 C135.5 327.0 136.5 325.1 137.5 323.0 C138.5 320.9 139.4 318.5 140.3 316.0 C141.2 313.5 141.9 310.8 142.7 308.0 C143.4 305.2 144.1 302.4 144.8 299.0 C145.5 295.6 146.2 292.0 147.0 287.5 C147.8 283.0 148.8 276.9 149.5 272.0 C150.2 267.1 150.9 262.0 151.5 258.3 C152.1 254.6 152.5 255.1 153.3 250.0 C154.1 244.9 155.6 234.7 156.5 227.7 C157.4 220.7 157.9 213.7 158.5 208.1 C159.1 202.5 159.7 199.6 160.3 194.0 C160.9 188.4 161.6 181.0 162.3 174.5 C163.0 168.0 163.7 159.8 164.3 155.0 C164.9 150.2 165.3 148.8 165.7 146.0 C166.1 143.2 166.4 141.0 166.8 138.0 C167.2 135.0 167.7 132.2 168.3 128.0 C168.9 123.8 169.9 117.1 170.6 113.0 C171.2 108.9 171.6 106.3 172.2 103.5 C172.8 100.7 173.4 98.2 174.0 96.0 C174.6 93.8 175.2 91.5 176.0 90.0 C176.8 88.5 178.0 86.9 179.1 86.7 C180.2 86.5 181.1 87.0 182.3 88.8 C183.5 90.6 184.9 93.7 186.1 97.3 C187.3 100.9 188.4 105.9 189.6 110.5 C190.8 115.1 192.0 120.1 193.2 125.1 C194.4 130.0 195.7 134.4 197.0 140.2 C198.3 146.0 199.5 153.3 200.8 160.0 C202.2 166.7 203.8 173.2 205.1 180.2 C206.3 187.2 207.1 195.6 208.3 202.0 C209.6 208.4 211.1 213.0 212.6 218.9 C214.1 224.8 216.3 232.5 217.6 237.7 C218.9 242.9 219.1 246.3 220.2 250.0 C221.3 253.7 222.9 255.8 224.4 260.0 C225.9 264.2 228.1 271.6 229.4 275.2 C230.7 278.8 230.9 279.5 232.0 281.5 C233.1 283.5 234.7 285.3 236.0 287.0 C237.3 288.7 238.6 289.9 239.8 291.5 C241.1 293.1 242.2 295.2 243.5 296.8 C244.8 298.4 246.1 300.1 247.3 301.3 C248.6 302.6 249.6 303.4 251.0 304.3 C252.4 305.2 253.9 306.1 255.6 306.6 C257.2 307.1 259.5 307.3 260.9 307.4 C262.3 307.5 262.8 307.5 264.0 307.3 C265.2 307.1 266.4 306.8 268.0 306.3 C269.6 305.8 271.8 305.1 273.3 304.5 C274.8 303.9 275.7 303.3 277.1 302.6 C278.5 301.9 280.1 300.9 281.6 300.3 C283.1 299.7 284.4 299.1 286.1 298.8 C287.9 298.6 290.2 298.7 292.1 298.8 C294.0 298.9 295.8 298.9 297.4 299.2 C299.0 299.5 300.5 299.6 302.0 300.8 C303.5 302.0 304.3 304.3 306.3 306.1 C308.3 307.9 311.8 309.8 313.9 311.5 C316.0 313.2 316.9 314.2 318.8 316.3 C320.7 318.4 323.0 321.4 325.1 323.9 C327.2 326.3 329.3 328.9 331.4 331.0 C333.5 333.1 335.6 334.9 337.7 336.5 C339.8 338.1 341.9 339.3 344.0 340.3 C346.1 341.3 347.4 341.7 350.0 342.6 C352.6 343.6 356.4 345.2 359.5 346.0 C362.6 346.8 364.7 347.2 368.3 347.6 C371.9 348.1 376.9 348.4 381.4 348.7 C385.8 349.0 390.3 349.1 395.0 349.2 C399.7 349.3 407.1 349.4 409.5 349.5" fill="none" stroke="#00ffff" stroke-width="2.0" stroke-linejoin="round" stroke-linecap="butt" shape-rendering="crispEdges"/>
<path d="M55.0 348.2 C56.2 347.9 59.8 347.1 62.5 346.3 C65.2 345.5 68.5 344.3 71.2 343.5 C73.9 342.7 76.1 342.0 78.5 341.4 C80.9 340.8 83.3 340.1 85.7 339.9 C88.1 339.7 89.2 340.1 93.0 340.1 C96.8 340.1 104.1 340.5 108.8 340.0 C113.5 339.5 118.3 337.8 121.0 337.3 C123.7 336.8 124.0 337.6 125.2 337.1 C126.5 336.6 127.5 335.2 128.5 334.3 C129.6 333.4 130.5 332.9 131.5 331.8 C132.5 330.7 133.4 329.2 134.5 327.5 C135.6 325.8 136.9 323.8 138.0 321.5 C139.1 319.2 139.9 316.6 140.8 314.0 C141.7 311.4 142.7 308.7 143.5 306.0 C144.3 303.3 144.8 301.5 145.6 298.0 C146.4 294.5 147.7 289.7 148.6 285.0 C149.5 280.3 150.2 274.8 151.0 270.0 C151.8 265.2 152.5 260.2 153.2 256.0 C153.9 251.8 154.5 248.8 155.2 245.0 C155.9 241.2 156.6 237.1 157.2 233.0 C157.8 228.9 158.3 224.5 158.9 220.2 C159.5 215.9 160.0 210.8 160.5 207.0 C161.0 203.2 161.3 201.5 161.8 197.5 C162.3 193.5 162.9 188.0 163.5 183.0 C164.1 178.0 164.7 172.3 165.3 167.6 C165.9 162.9 166.4 158.9 167.0 155.0 C167.6 151.1 168.1 147.5 168.7 144.1 C169.3 140.7 170.0 137.8 170.8 134.5 C171.6 131.2 172.7 126.9 173.4 124.6 C174.1 122.3 174.5 121.5 175.1 120.6 C175.7 119.7 176.3 119.3 177.1 119.3 C177.8 119.2 178.7 119.3 179.6 120.3 C180.5 121.3 181.6 123.4 182.6 125.2 C183.6 127.0 184.8 129.4 185.6 131.2 C186.4 133.0 186.8 133.7 187.5 136.0 C188.2 138.3 189.1 141.5 190.0 145.0 C190.9 148.5 192.1 152.7 193.2 157.0 C194.3 161.3 195.4 166.3 196.5 171.0 C197.6 175.7 198.4 180.0 199.5 185.0 C200.6 190.0 201.8 195.8 203.0 201.0 C204.2 206.2 205.2 211.0 206.5 216.0 C207.8 221.0 209.1 225.5 210.5 231.0 C211.9 236.5 213.7 243.8 215.1 249.0 C216.5 254.2 217.6 258.8 218.7 262.5 C219.8 266.2 220.8 268.8 221.8 271.5 C222.9 274.2 223.8 276.2 225.0 278.5 C226.2 280.8 227.8 283.3 229.0 285.5 C230.2 287.7 230.9 289.9 232.1 291.5 C233.3 293.1 234.7 294.0 236.0 295.3 C237.3 296.6 238.6 297.9 239.8 299.1 C241.1 300.4 242.2 301.7 243.5 302.8 C244.8 303.9 246.1 305.0 247.3 305.9 C248.6 306.8 249.6 307.5 251.0 308.1 C252.4 308.7 253.9 309.3 255.6 309.6 C257.2 309.9 259.2 310.0 260.9 310.0 C262.6 310.0 264.6 309.7 266.0 309.5 C267.4 309.3 267.8 309.1 269.0 308.8 C270.2 308.5 271.9 308.4 273.3 307.9 C274.7 307.4 275.7 306.3 277.1 305.6 C278.5 304.9 280.0 304.3 281.6 303.7 C283.2 303.1 284.9 302.5 286.9 302.2 C288.9 301.9 291.8 301.7 293.7 301.8 C295.6 301.9 296.8 302.2 298.2 302.6 C299.6 303.0 300.7 303.3 302.0 304.3 C303.3 305.3 304.9 307.4 306.2 308.5 C307.5 309.6 308.5 309.9 310.0 311.0 C311.5 312.1 313.3 313.6 315.0 315.0 C316.7 316.4 318.5 317.6 320.2 319.5 C321.9 321.4 323.2 324.4 325.1 326.5 C327.0 328.6 329.3 330.4 331.4 332.2 C333.5 333.9 335.6 335.6 337.7 337.0 C339.8 338.4 341.9 339.6 344.0 340.6 C346.1 341.6 347.4 341.9 350.0 342.8 C352.6 343.7 356.4 345.2 359.5 346.0 C362.6 346.8 364.7 347.2 368.3 347.6 C371.9 348.1 376.9 348.4 381.4 348.7 C385.8 349.0 390.3 349.1 395.0 349.2 C399.7 349.3 407.1 349.4 409.5 349.5" fill="none" stroke="#ff00ff" stroke-width="2.0" stroke-linejoin="round" stroke-linecap="butt" shape-rendering="crispEdges"/>
<path d="M54.8 337.7 C55.3 337.9 56.6 338.9 58.1 339.2 C59.6 339.5 61.7 339.4 63.9 339.5 C66.1 339.6 69.0 339.6 71.2 339.5 C73.4 339.4 75.4 339.4 77.0 339.2 C78.6 339.0 79.1 338.5 80.6 338.3 C82.0 338.1 83.6 338.1 85.7 338.1 C87.8 338.1 89.2 338.3 93.0 338.5 C96.8 338.7 103.4 339.1 108.8 339.2 C114.2 339.2 121.5 339.1 125.2 338.8 C128.9 338.5 129.3 337.9 130.9 337.5 C132.5 337.1 133.7 336.9 135.0 336.3 C136.3 335.7 137.6 335.1 139.0 334.0 C140.4 332.9 142.3 331.5 143.5 330.0 C144.7 328.5 145.2 326.5 146.0 325.0 C146.8 323.5 147.0 323.3 148.0 321.2 C149.0 319.1 150.8 315.2 152.0 312.2 C153.2 309.2 154.1 306.4 155.0 303.0 C155.9 299.6 156.6 295.0 157.2 292.0 C157.8 289.0 158.1 287.5 158.7 285.0 C159.2 282.5 159.9 279.8 160.5 277.0 C161.1 274.2 161.6 271.0 162.2 268.0 C162.8 265.0 163.4 262.0 164.0 259.0 C164.6 256.0 165.0 253.2 165.6 250.0 C166.2 246.8 166.8 243.3 167.4 240.0 C168.0 236.7 168.3 234.2 169.0 230.0 C169.7 225.8 170.6 220.0 171.3 215.0 C172.1 210.0 172.8 205.0 173.5 200.0 C174.2 195.0 175.1 190.0 175.8 185.0 C176.6 180.0 177.4 173.9 178.0 170.0 C178.6 166.1 179.1 163.8 179.6 161.3 C180.1 158.8 180.5 157.0 181.0 155.0 C181.5 153.0 181.8 151.2 182.4 149.2 C183.0 147.2 183.7 145.0 184.3 143.0 C184.9 141.0 185.6 138.8 186.2 137.1 C186.8 135.3 187.4 133.8 188.0 132.5 C188.6 131.2 189.2 128.8 190.0 129.0 C190.8 129.2 192.0 132.1 193.1 133.9 C194.2 135.7 195.9 138.1 196.8 139.9 C197.8 141.8 197.9 142.5 198.8 145.0 C199.7 147.5 200.9 150.6 202.2 155.0 C203.5 159.4 205.1 165.5 206.4 171.4 C207.7 177.3 209.2 185.3 210.2 190.2 C211.2 195.1 211.6 197.3 212.5 201.0 C213.4 204.7 214.4 208.7 215.5 212.5 C216.6 216.3 217.6 219.5 218.9 223.9 C220.2 228.3 222.0 234.7 223.3 239.0 C224.6 243.3 225.5 246.5 226.5 250.0 C227.5 253.5 228.6 257.0 229.5 260.0 C230.4 263.0 231.1 265.2 232.0 268.0 C232.9 270.8 233.9 273.8 235.0 277.0 C236.1 280.2 236.9 284.3 238.3 287.0 C239.7 289.7 242.0 291.1 243.5 293.0 C245.0 294.9 246.1 296.5 247.3 298.3 C248.6 300.1 249.8 302.0 251.0 303.6 C252.2 305.2 253.5 306.7 254.8 308.1 C256.1 309.5 257.4 310.9 258.6 311.9 C259.8 312.9 260.9 313.4 262.0 313.9 C263.1 314.4 264.2 314.7 265.5 315.0 C266.8 315.3 267.9 315.4 269.5 315.8 C271.1 316.2 273.4 317.3 275.2 317.7 C276.9 318.1 278.1 318.4 280.0 318.4 C281.9 318.4 283.8 318.1 286.3 317.9 C288.8 317.7 292.8 317.2 295.1 317.1 C297.4 317.0 298.1 316.9 300.0 317.1 C301.9 317.3 304.2 317.7 306.3 318.2 C308.4 318.7 310.5 319.3 312.6 320.1 C314.7 320.9 316.7 321.8 318.8 323.2 C320.9 324.6 323.0 326.7 325.1 328.3 C327.2 329.9 329.3 331.2 331.4 332.7 C333.5 334.2 335.6 335.9 337.7 337.2 C339.8 338.4 341.9 339.3 344.0 340.2 C346.1 341.1 347.4 341.5 350.0 342.4 C352.6 343.3 356.4 344.7 359.5 345.4 C362.6 346.1 364.7 346.4 368.3 346.8 C371.9 347.2 376.9 347.8 381.4 348.1 C385.8 348.4 389.1 348.6 395.0 348.8 C400.9 349.0 413.3 349.1 417.0 349.2" fill="none" stroke="#00ff00" stroke-width="2.0" stroke-linejoin="round" stroke-linecap="butt" shape-rendering="crispEdges"/>
<path d="M54.8 346.5 C55.7 346.2 58.2 345.3 60.3 344.6 C62.4 343.9 65.1 343.0 67.5 342.1 C69.9 341.2 72.4 340.3 74.8 339.5 C77.2 338.7 80.0 337.9 82.1 337.4 C84.2 336.9 85.4 336.7 87.2 336.6 C89.0 336.5 87.6 336.6 93.0 336.6 C98.4 336.6 114.1 336.9 119.5 336.7 C124.9 336.4 123.6 336.0 125.2 335.1 C126.8 334.2 127.9 332.6 129.3 331.2 C130.7 329.8 132.2 328.2 133.4 326.5 C134.6 324.8 135.8 322.7 136.7 321.2 C137.5 319.7 137.7 319.4 138.5 317.5 C139.3 315.6 140.4 312.9 141.3 309.9 C142.2 306.9 143.3 303.2 144.1 299.7 C144.9 296.2 145.4 293.3 146.2 288.7 C147.0 284.1 148.1 277.2 148.8 272.1 C149.5 267.0 150.1 262.0 150.6 258.3 C151.1 254.6 151.3 255.1 152.1 250.0 C152.9 244.9 154.4 234.7 155.2 227.7 C156.0 220.7 156.6 213.7 157.1 208.1 C157.6 202.5 157.8 199.6 158.4 194.0 C159.0 188.4 159.7 181.2 160.4 174.5 C161.1 167.8 161.9 159.6 162.5 153.8 C163.1 148.1 163.4 144.8 163.9 140.0 C164.4 135.2 165.1 129.7 165.6 125.2 C166.1 120.7 166.8 116.8 167.2 113.0 C167.6 109.2 167.7 106.2 168.1 102.6 C168.5 99.0 168.9 95.3 169.5 91.2 C170.1 87.1 170.9 81.7 171.5 78.0 C172.1 74.3 172.3 72.6 172.9 69.3 C173.5 66.0 174.2 61.2 174.9 58.2 C175.6 55.2 176.7 52.6 177.3 51.0 C178.0 49.4 178.3 48.9 178.8 48.4 C179.3 47.9 179.7 47.9 180.2 48.0 C180.7 48.1 181.2 48.4 181.6 48.8 C182.0 49.2 182.1 49.4 182.6 50.4 C183.1 51.4 183.6 52.7 184.4 54.6 C185.2 56.5 186.8 59.0 187.7 62.0 C188.6 65.0 189.5 69.9 190.1 72.6 C190.7 75.3 190.9 75.3 191.4 78.0 C191.9 80.7 192.4 84.9 193.1 88.6 C193.8 92.3 194.6 96.3 195.3 100.0 C196.0 103.7 196.6 106.3 197.3 110.5 C198.0 114.7 198.7 120.1 199.5 125.1 C200.3 130.0 201.1 134.8 202.0 140.2 C202.9 145.6 203.8 151.9 204.8 157.5 C205.9 163.1 207.2 168.0 208.3 173.9 C209.4 179.8 210.6 187.9 211.4 192.7 C212.2 197.5 212.4 198.1 213.3 202.5 C214.2 206.9 215.6 213.0 217.0 218.9 C218.4 224.8 220.5 232.5 222.0 237.7 C223.5 242.9 224.7 246.3 225.8 250.0 C226.9 253.7 227.6 257.1 228.5 260.0 C229.4 262.9 230.4 265.0 231.5 267.5 C232.6 270.0 233.9 272.7 235.1 275.0 C236.3 277.3 237.6 279.5 238.8 281.5 C240.1 283.5 241.3 285.4 242.6 287.0 C243.9 288.6 245.2 289.8 246.5 290.8 C247.8 291.8 248.9 292.4 250.2 293.2 C251.5 294.0 253.0 294.8 254.5 295.5 C256.0 296.2 257.9 297.2 259.2 297.6 C260.4 298.0 260.8 298.0 262.0 298.0 C263.2 298.0 264.9 297.7 266.5 297.4 C268.1 297.1 270.2 296.8 271.8 296.2 C273.4 295.6 274.7 294.3 276.3 293.6 C277.9 292.9 279.8 292.5 281.6 292.0 C283.4 291.5 284.9 291.0 286.9 290.6 C288.9 290.2 291.6 289.9 293.7 289.9 C295.8 289.9 297.6 289.9 299.7 290.8 C301.8 291.7 304.1 293.8 306.2 295.4 C308.3 297.0 310.2 298.7 312.2 300.7 C314.2 302.7 316.3 305.2 318.3 307.5 C320.3 309.8 322.6 312.1 324.3 314.3 C326.0 316.5 326.8 317.9 328.7 320.5 C330.6 323.1 333.4 326.9 335.8 329.6 C338.2 332.3 340.6 334.9 343.0 336.8 C345.4 338.7 347.3 339.6 350.1 340.8 C352.9 342.0 357.2 343.0 360.0 343.9 C362.8 344.8 364.4 345.6 366.8 346.2 C369.2 346.8 371.4 346.9 374.1 347.3 C376.8 347.7 378.5 348.1 382.8 348.4 C387.1 348.7 395.6 349.0 400.0 349.2 C404.4 349.4 407.5 349.4 409.0 349.5" fill="none" stroke="#000000" stroke-width="2.0" stroke-linejoin="round" stroke-linecap="butt" shape-rendering="crispEdges"/>
<path d="M55.0 318.3 C56.6 318.1 60.9 317.2 64.4 317.2 C67.9 317.2 72.3 317.8 76.0 318.3 C79.7 318.8 83.7 319.7 86.5 320.2 C89.3 320.7 90.8 321.1 93.0 321.5 C95.2 321.9 98.0 322.6 100.0 322.8 C102.0 323.0 103.3 322.8 105.0 322.6 C106.7 322.4 108.5 321.9 110.0 321.5 C111.5 321.1 113.0 320.7 114.3 320.0 C115.5 319.3 116.5 318.5 117.5 317.5 C118.5 316.5 119.7 315.2 120.6 313.8 C121.5 312.4 122.2 310.7 123.0 309.0 C123.8 307.3 124.5 305.4 125.2 303.7 C125.9 302.0 126.3 300.7 127.0 299.0 C127.7 297.3 128.4 295.3 129.1 293.6 C129.8 291.9 130.3 290.4 131.0 289.0 C131.7 287.6 132.2 287.8 133.0 285.0 C133.8 282.2 134.7 276.8 135.7 272.1 C136.7 267.4 138.3 260.6 139.2 256.9 C140.0 253.2 139.9 254.9 140.8 250.0 C141.7 245.1 143.3 234.7 144.6 227.7 C145.9 220.7 147.4 213.5 148.4 208.1 C149.4 202.7 149.8 200.6 150.8 195.0 C151.8 189.4 153.0 181.4 154.2 174.5 C155.3 167.6 156.7 159.6 157.7 153.8 C158.7 148.1 159.6 144.3 160.4 140.0 C161.2 135.7 161.8 131.1 162.5 128.0 C163.2 124.9 163.6 123.9 164.5 121.5 C165.4 119.1 166.8 115.6 168.0 113.6 C169.2 111.6 170.7 110.1 171.8 109.6 C172.9 109.1 173.9 109.8 174.8 110.5 C175.7 111.2 176.6 112.6 177.4 113.9 C178.2 115.2 178.9 116.6 179.7 118.1 C180.5 119.5 181.5 120.9 182.3 122.6 C183.1 124.3 183.7 125.6 184.6 128.5 C185.5 131.4 186.6 135.7 187.6 140.0 C188.6 144.3 189.6 149.3 190.7 154.5 C191.8 159.7 193.2 166.1 194.4 171.4 C195.6 176.7 196.5 181.3 197.6 186.4 C198.7 191.5 199.7 196.6 200.9 202.0 C202.2 207.4 203.7 213.4 205.1 218.9 C206.5 224.4 208.2 230.5 209.5 235.2 C210.8 239.9 212.0 243.6 213.2 247.0 C214.4 250.4 215.6 252.3 216.8 255.5 C218.0 258.7 219.6 263.6 220.6 266.0 C221.6 268.4 222.1 268.7 223.0 270.0 C223.9 271.3 225.0 272.5 226.0 273.6 C227.0 274.7 228.0 275.4 229.0 276.5 C230.0 277.6 230.9 279.4 232.0 280.5 C233.1 281.6 234.2 282.1 235.5 283.0 C236.8 283.9 238.3 285.3 239.6 286.0 C240.9 286.7 242.2 286.8 243.5 287.0 C244.8 287.2 245.8 287.2 247.1 287.1 C248.3 287.0 249.7 286.9 251.0 286.6 C252.3 286.4 253.4 286.0 254.7 285.6 C255.9 285.2 257.2 284.5 258.5 284.0 C259.8 283.5 260.9 283.0 262.2 282.6 C263.4 282.2 264.7 281.9 266.0 281.6 C267.3 281.4 268.6 281.2 269.8 281.1 C271.1 281.0 272.2 281.1 273.5 281.2 C274.8 281.3 276.1 281.7 277.3 281.9 C278.5 282.1 279.6 282.2 280.6 282.6 C281.6 283.0 282.5 283.6 283.5 284.3 C284.5 285.0 285.6 286.2 286.6 287.0 C287.6 287.8 288.5 288.4 289.5 289.0 C290.5 289.6 291.6 289.9 292.6 290.6 C293.6 291.3 294.7 292.1 295.7 293.0 C296.7 293.9 297.7 295.0 298.7 296.2 C299.7 297.4 300.7 298.8 301.7 300.0 C302.7 301.2 303.7 302.6 304.7 303.7 C305.7 304.8 306.7 305.8 307.7 306.8 C308.7 307.8 309.7 308.8 310.7 309.8 C311.7 310.8 312.7 311.8 313.7 312.8 C314.7 313.8 315.7 314.6 316.8 315.8 C317.9 317.0 319.1 318.3 320.5 320.2 C321.9 322.1 323.3 325.1 325.1 327.2 C326.9 329.3 329.3 331.0 331.4 332.7 C333.5 334.4 335.6 336.0 337.7 337.4 C339.8 338.8 341.9 339.9 344.0 340.8 C346.1 341.7 347.4 342.0 350.0 342.9 C352.6 343.8 356.4 345.4 359.5 346.2 C362.6 347.0 364.7 347.2 368.3 347.6 C371.9 348.0 376.9 348.5 381.4 348.8 C385.8 349.1 390.3 349.2 395.0 349.3 C399.7 349.4 407.1 349.5 409.5 349.5" fill="none" stroke="#ff0000" stroke-width="2.0" stroke-linejoin="round" stroke-linecap="butt" shape-rendering="crispEdges"/>
<path d="M54.8 334.1 C56.3 334.1 61.7 334.3 63.9 334.1 C66.1 333.9 66.7 333.3 68.0 333.0 C69.3 332.7 70.6 332.6 71.9 332.3 C73.2 332.1 74.5 331.7 76.0 331.5 C77.5 331.3 78.6 331.3 80.6 331.2 C82.6 331.1 85.9 330.9 88.0 330.8 C90.1 330.7 91.6 330.7 93.0 330.8 C94.4 330.9 94.4 331.3 96.5 331.5 C98.6 331.7 102.5 331.8 105.5 331.8 C108.5 331.9 112.1 331.9 114.5 331.8 C116.9 331.7 118.6 331.4 120.0 331.0 C121.4 330.6 121.8 330.4 123.1 329.7 C124.4 329.0 126.4 327.9 128.0 327.0 C129.6 326.1 131.4 325.4 132.8 324.1 C134.2 322.9 135.5 321.3 136.5 319.5 C137.5 317.7 138.2 315.1 139.0 313.3 C139.8 311.6 140.8 310.3 141.5 309.0 C142.2 307.7 143.0 306.9 143.5 305.4 C144.0 303.9 144.0 302.1 144.6 300.0 C145.2 297.9 146.1 295.3 146.8 293.0 C147.5 290.7 148.0 288.6 148.6 286.0 C149.2 283.4 149.3 282.2 150.2 277.6 C151.0 273.0 152.8 263.4 153.7 258.3 C154.6 253.2 154.9 250.8 155.5 247.0 C156.1 243.2 156.6 241.4 157.4 235.2 C158.2 229.0 159.6 216.3 160.4 209.6 C161.2 202.9 161.9 199.8 162.5 195.0 C163.1 190.2 163.4 185.6 164.0 181.0 C164.6 176.4 165.3 172.3 166.0 167.6 C166.7 162.9 167.3 157.6 168.0 153.0 C168.7 148.4 169.5 143.8 170.1 140.0 C170.7 136.2 171.1 132.8 171.6 130.0 C172.1 127.2 172.5 125.1 173.0 123.0 C173.5 120.9 174.0 119.2 174.6 117.5 C175.2 115.8 176.0 114.2 176.8 113.0 C177.6 111.8 178.4 110.4 179.4 110.3 C180.4 110.2 181.7 111.5 183.0 112.3 C184.3 113.1 186.2 114.0 187.0 115.3 C187.8 116.6 187.7 118.5 188.0 120.0 C188.3 121.5 188.4 122.8 188.8 124.5 C189.2 126.2 190.1 128.7 190.7 130.4 C191.3 132.2 191.8 133.5 192.3 135.0 C192.8 136.5 193.1 137.5 193.7 139.4 C194.3 141.3 195.2 143.6 196.0 146.2 C196.8 148.8 197.6 152.4 198.3 155.2 C199.1 158.0 199.8 159.1 200.5 162.8 C201.2 166.5 201.5 172.4 202.6 177.6 C203.7 182.8 205.8 188.6 207.0 194.0 C208.2 199.4 208.8 204.4 210.1 210.0 C211.3 215.6 213.3 223.2 214.5 227.7 C215.7 232.2 216.5 234.0 217.5 237.0 C218.5 240.0 219.1 242.0 220.4 245.8 C221.8 249.6 224.3 256.8 225.6 260.0 C226.9 263.2 227.2 262.8 228.0 265.0 C228.8 267.2 229.6 270.7 230.6 273.0 C231.6 275.3 232.6 277.0 234.0 279.0 C235.4 281.0 237.0 282.7 239.0 285.0 C241.0 287.3 243.8 290.9 246.0 293.0 C248.2 295.1 250.0 296.2 252.0 297.5 C254.0 298.8 255.8 299.8 258.0 300.5 C260.2 301.2 262.8 301.6 265.2 302.0 C267.6 302.4 270.2 302.9 272.7 302.7 C275.2 302.4 278.1 300.8 280.2 300.5 C282.2 300.2 283.4 300.7 285.0 300.8 C286.6 300.9 287.7 300.9 290.0 301.0 C292.3 301.1 296.6 300.8 298.8 301.2 C301.0 301.6 301.6 302.5 303.0 303.5 C304.4 304.5 305.5 305.6 307.0 307.0 C308.5 308.4 310.0 309.8 312.0 312.0 C314.0 314.2 316.6 317.5 318.8 320.0 C321.0 322.5 323.0 325.0 325.1 327.2 C327.2 329.4 329.3 331.1 331.4 333.0 C333.5 334.9 335.6 337.0 337.7 338.6 C339.8 340.2 341.9 341.4 344.0 342.4 C346.1 343.4 347.4 343.8 350.0 344.6 C352.6 345.4 356.4 346.6 359.5 347.2 C362.6 347.8 364.7 348.0 368.3 348.3 C371.9 348.6 376.9 348.8 381.4 349.0 C385.8 349.2 390.3 349.2 395.0 349.3 C399.7 349.4 407.1 349.5 409.5 349.5" fill="none" stroke="#ff0000" stroke-width="2.0" stroke-linejoin="round" stroke-linecap="butt" shape-rendering="crispEdges" stroke-dasharray="0.00 0.00 9.27 8.06 8.79 7.41 8.74 8.85 9.00 8.43 12.01 10.93 10.28 4.21 11.01 6.02 12.95 5.95 10.82 3.98 10.86 6.08 10.56 4.32 12.36 10.56 11.95 5.55 12.16 23.96 28.16 8.58 9.22 8.30 7.09 9.49 7.18 9.91 11.20 7.42 10.74 6.49 11.06 5.67 11.01 9.08 9.74 8.97 10.92 5.09 11.13 10.30 7.81 11.51 11.50 8.30 10.06 5.26 8.44 9.01 7.68 8.00 9.00 8.00 9.00 8.00 9.00 8.00 9.00 8.00 9.00 8.00 9.00 8.00 9.00 8.00 9.00"/>
<rect x="53" y="16" width="2" height="335" fill="#1e1e1e"/>
<rect x="53" y="349.7" width="475" height="1.15" fill="#151515"/>
<rect x="76.20" y="347.40" width="1" height="2.60" fill="#1a1a1a"/>
<rect x="99.90" y="347.40" width="1" height="2.60" fill="#1a1a1a"/>
<rect x="123.80" y="347.40" width="1" height="2.60" fill="#1a1a1a"/>
<rect x="147.50" y="347.40" width="1" height="2.60" fill="#1a1a1a"/>
<rect x="172.00" y="345.40" width="1" height="4.60" fill="#1a1a1a"/>
<rect x="196.70" y="347.40" width="1" height="2.60" fill="#1a1a1a"/>
<rect x="219.10" y="347.40" width="1" height="2.60" fill="#1a1a1a"/>
<rect x="243.80" y="347.40" width="1" height="2.60" fill="#1a1a1a"/>
<rect x="267.00" y="347.40" width="1" height="2.60" fill="#1a1a1a"/>
<rect x="289.60" y="345.40" width="1" height="4.60" fill="#1a1a1a"/>
<rect x="313.30" y="347.40" width="1" height="2.60" fill="#1a1a1a"/>
<rect x="337.90" y="347.40" width="1" height="2.60" fill="#1a1a1a"/>
<rect x="360.80" y="347.40" width="1" height="2.60" fill="#1a1a1a"/>
<rect x="385.00" y="347.40" width="1" height="2.60" fill="#1a1a1a"/>
<rect x="409.20" y="345.40" width="1" height="4.60" fill="#1a1a1a"/>
<rect x="432.60" y="347.40" width="1" height="2.60" fill="#1a1a1a"/>
<rect x="456.00" y="347.40" width="1" height="2.60" fill="#1a1a1a"/>
<rect x="478.90" y="347.40" width="1" height="2.60" fill="#1a1a1a"/>
<rect x="503.30" y="347.40" width="1" height="2.60" fill="#1a1a1a"/>
<rect x="526.70" y="345.40" width="1" height="4.60" fill="#1a1a1a"/>
<rect x="55" y="16.25" width="5.80" height="1.3" fill="#1a1a1a"/>
<rect x="55" y="43.15" width="2.80" height="1.3" fill="#1a1a1a"/>
<rect x="55" y="71.55" width="2.80" height="1.3" fill="#1a1a1a"/>
<rect x="55" y="98.85" width="2.80" height="1.3" fill="#1a1a1a"/>
<rect x="55" y="126.15" width="5.80" height="1.3" fill="#1a1a1a"/>
<rect x="55" y="154.45" width="2.80" height="1.3" fill="#1a1a1a"/>
<rect x="55" y="182.25" width="2.80" height="1.3" fill="#1a1a1a"/>
<rect x="55" y="211.15" width="2.80" height="1.3" fill="#1a1a1a"/>
<rect x="55" y="240.85" width="5.80" height="1.3" fill="#1a1a1a"/>
<rect x="55" y="267.55" width="2.80" height="1.3" fill="#1a1a1a"/>
<rect x="55" y="294.65" width="2.80" height="1.3" fill="#1a1a1a"/>
<rect x="55" y="322.15" width="2.80" height="1.3" fill="#1a1a1a"/>
<rect x="527" y="349" width="1.5" height="1.5" fill="#e22"/>
<line x1="297.1" y1="60.3" x2="332.3" y2="60.3" stroke="#0000ff" stroke-width="2.0"/>
<line x1="299.5" y1="74.9" x2="332.3" y2="74.9" stroke="#00ffff" stroke-width="2.0"/>
<line x1="298.2" y1="90.9" x2="334.4" y2="90.9" stroke="#ff00ff" stroke-width="2.0"/>
<line x1="297.3" y1="105.6" x2="333.3" y2="105.6" stroke="#00ff00" stroke-width="2.0"/>
<line x1="297.3" y1="120.2" x2="333.3" y2="120.2" stroke="#000000" stroke-width="2.0"/>
<line x1="297.3" y1="136.4" x2="333.3" y2="136.4" stroke="#ff0000" stroke-width="2.0"/>
<line x1="297.3" y1="152.2" x2="333.3" y2="152.2" stroke="#ff0000" stroke-width="2.0" stroke-dasharray="6.5 7.5"/>
<path d="M453.3 378.3 C453.9 376.9 455.4 376.4 456.1 377.9 L457.3 382.8 C457.9 385.6 459.3 386.9 461.7 385.9" fill="none" stroke="#111" stroke-width="1.9"/>
<path d="M457.1 380.8 L453.7 387.4" fill="none" stroke="#111" stroke-width="2.1"/>
</g>
</svg>
</div></body></html>
